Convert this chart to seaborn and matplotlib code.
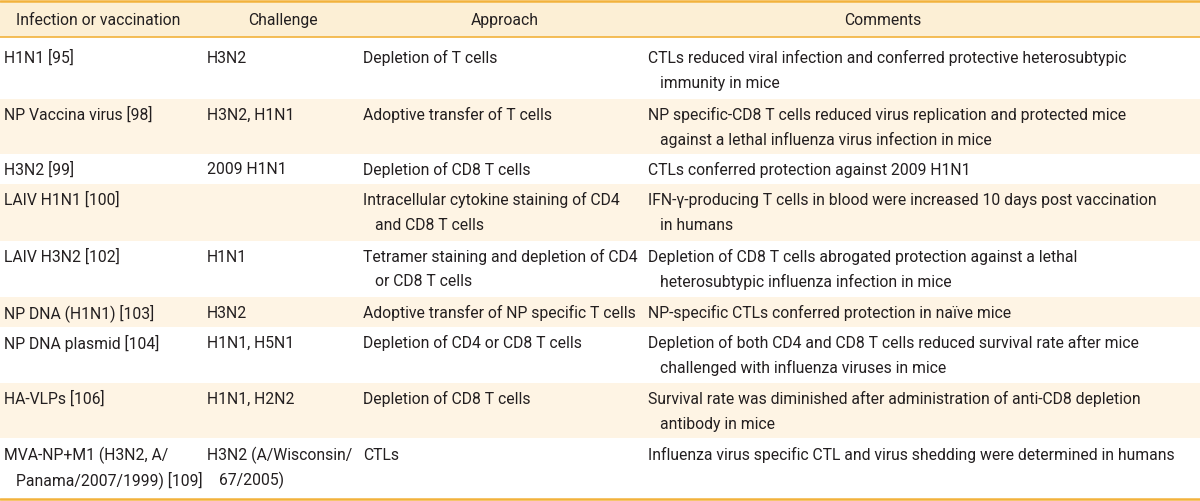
import seaborn as sns
import matplotlib.pyplot as plt

# 표 데이터
headers = ['Infection or vaccination', 'Challenge', 'Approach', 'Comments']
infection = ['H1N1 [95]', 'NP Vaccina virus [98]', 'H3N2 [99]', 'LAIV H1N1 [100]',
             'LAIV H3N2 [102]', 'NP DNA (H1N1) [103]', 'NP DNA plasmid [104]',
             'HA-VLPs [106]', 'MVA-NP+M1 (H3N2, A/\nPanama/2007/1999) [109]']
challenge = ['H3N2', 'H3N2, H1N1', '2009 H1N1', '', 'H1N1', 'H3N2', 'H1N1, H5N1',
             'H1N1, H2N2', 'H3N2 (A/Wisconsin/\n67/2005)']
approach = ['Depletion of T cells', 'Adoptive transfer of T cells', 'Depletion of CD8 T cells',
            'Intracellular cytokine staining of CD4\nand CD8 T cells',
            'Tetramer staining and depletion of CD4\nor CD8 T cells',
            'Adoptive transfer of NP specific T cells', 'Depletion of CD4 or CD8 T cells',
            'Depletion of CD8 T cells', 'CTLs']
comments = ['CTLs reduced viral infection and conferred protective heterosubtypic\nimmunity in mice',
            'NP specific-CD8 T cells reduced virus replication and protected mice\nagainst a lethal influenza virus infection in mice',
            'CTLs conferred protection against 2009 H1N1',
            'IFN-γ-producing T cells in blood were increased 10 days post vaccination\nin humans',
            'Depletion of CD8 T cells abrogated protection against a lethal\nheterosubtypic influenza infection in mice',
            'NP-specific CTLs conferred protection in naïve mice',
            'Depletion of both CD4 and CD8 T cells reduced survival rate after mice\nchallenged with influenza viruses in mice',
            'Survival rate was diminished after administration of anti-CD8 depletion\nantibody in mice',
            'Influenza virus specific CTL and virus shedding were determined in humans']

# 레이아웃 (픽셀)
row_tops = [38, 99, 154, 184, 241, 297, 327, 383, 438, 499]
first_line = [20, 16, 16, 16, 16, 16, 16, 16, 17]
col_x = [4, 207, 363, 648]
header_x = [98, 283, 505, 883]
indent = 12
line_gap = 25

sns.set_style('white')
plt.rcParams['font.family'] = ['Roboto', 'DejaVu Sans']

fig = plt.figure(figsize=(12, 5.01), dpi=100)
ax = fig.add_axes([0, 0, 1, 1])
ax.set_xlim(0, 1200)
ax.set_ylim(501, 0)
ax.axis('off')

orange = '#F2B23C'
ink = '#231F20'

# 배경
ax.axhspan(1, 37, color='#FCEFD5', lw=0)
for i in range(len(infection)):
    if i % 2 == 1:
        ax.axhspan(row_tops[i], row_tops[i + 1], color='#FEF4E4', lw=0)
ax.axhline(1, color=orange, lw=1.8)
ax.axhline(37, color=orange, lw=1.2)
ax.axhline(499, color=orange, lw=1.8)

texts = []
for hx, h in zip(header_x, headers):
    texts.append(ax.text(hx, 20, h, ha='center', va='center', color=ink, fontsize=12))

columns = [infection, challenge, approach, comments]
probe = None
for c, col in enumerate(columns):
    for i, cell in enumerate(col):
        for k, line in enumerate(cell.split('\n')):
            x = col_x[c] + (indent if k > 0 else 0)
            y = row_tops[i] + first_line[i] + k * line_gap
            t = ax.text(x, y, line, ha='left', va='center', color=ink, fontsize=12)
            texts.append(t)
            if line.startswith('Adoptive transfer of NP'):
                probe = t

# 글자 크기를 폭에 맞춤
fig.canvas.draw()
w = probe.get_window_extent().width
scale = 272 / w
for t in texts:
    t.set_fontsize(12 * scale)

fig.savefig('out.png', dpi=100)
